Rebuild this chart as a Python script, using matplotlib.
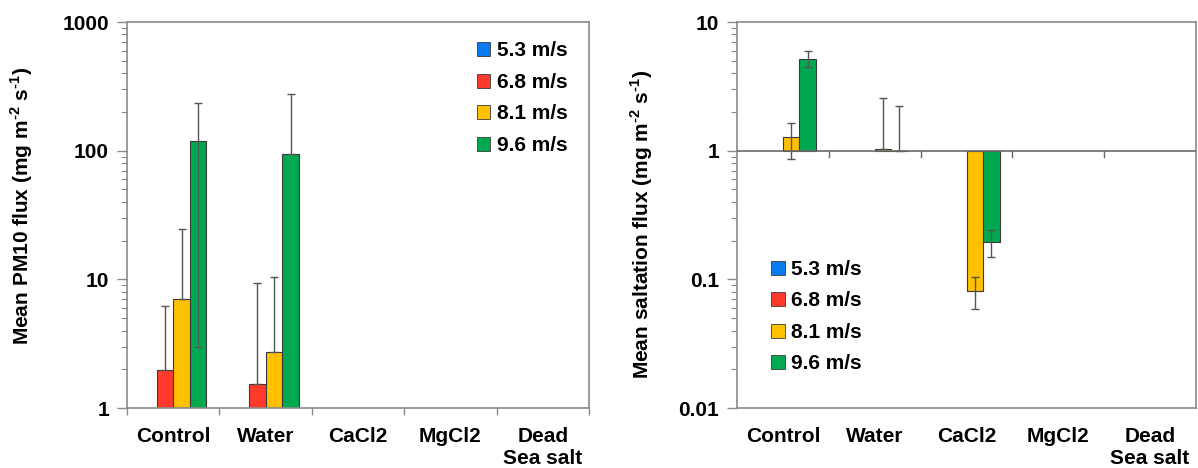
"""Mean PM10 and saltation flux per treatment and wind speed (log axes)"""

import numpy as np
import matplotlib
matplotlib.use("Agg")
import matplotlib.pyplot as plt
from matplotlib.patches import Patch

plt.rcParams["font.family"] = ["Liberation Sans", "DejaVu Sans"]
plt.rcParams["font.weight"] = "bold"
plt.rcParams["mathtext.fontset"] = "custom"
plt.rcParams["mathtext.rm"] = "Liberation Sans:bold"
plt.rcParams["mathtext.bf"] = "Liberation Sans:bold"

categories = ["Control", "Water", "CaCl2", "MgCl2", "Dead\nSea salt"]
speeds = ["5.3 m/s", "6.8 m/s", "8.1 m/s", "9.6 m/s"]
colors = ["#0A7CF0", "#FF3A2A", "#FFC000", "#00A84F"]
nan = np.nan

# PM10 flux, one list per wind speed (values over the 5 categories)
pm10 = [
    [nan, nan, nan, nan, nan],
    [1.97, 1.53, nan, nan, nan],
    [7.03, 2.72, nan, nan, nan],
    [118, 94.2, nan, nan, nan],
]
pm10_err_up = [
    [0, 0, 0, 0, 0],
    [4.27, 7.87, 0, 0, 0],
    [17.7, 7.78, 0, 0, 0],
    [118, 183, 0, 0, 0],
]
pm10_err_low = [
    [0, 0, 0, 0, 0],
    [0, 0, 0, 0, 0],
    [0, 0, 0, 0, 0],
    [115, 0, 0, 0, 0],
]

# saltation flux
salt = [
    [nan, nan, nan, nan, nan],
    [nan, nan, nan, nan, nan],
    [1.28, 1.024, 0.0811, nan, nan],
    [5.19, 1.0, 0.194, nan, nan],
]
salt_err_up = [
    [0, 0, 0, 0, 0],
    [0, 0, 0, 0, 0],
    [0.37, 1.556, 0.024, 0, 0],
    [0.79, 1.22, 0.047, 0, 0],
]
salt_err_low = [
    [0, 0, 0, 0, 0],
    [0, 0, 0, 0, 0],
    [0.413, 0, 0.0226, 0, 0],
    [0.74, 0, 0.045, 0, 0],
]

FS = 15
SPINE = "#8a8a8a"


def draw(ax, values, err_up, err_low, ylim, ylabel, label_xy, legend_loc):
    x = np.arange(len(categories))
    w = 0.18
    for i, (vals, up, low) in enumerate(zip(values, err_up, err_low)):
        vals = np.array(vals, dtype=float)
        pos = x + (i - 1.5) * w
        ax.bar(pos, vals - 1, bottom=1, width=w, color=colors[i],
               edgecolor="#3a3a3a", linewidth=0.8, zorder=2)
        ax.errorbar(pos, vals, yerr=[low, up], fmt="none", ecolor="#555555",
                    elinewidth=1.0, capsize=3, capthick=1.0, zorder=3)
    ax.set_yscale("log")
    ax.set_ylim(*ylim)
    ax.set_xlim(-0.5, len(categories) - 0.5)
    for s in ax.spines.values():
        s.set_color(SPINE)
        s.set_linewidth(1.2)
    ax.yaxis.set_major_formatter(plt.FuncFormatter(lambda v, p: f"{v:g}"))
    ax.tick_params(axis="y", which="major", length=7, width=1, color=SPINE,
                   labelsize=FS, pad=6)
    ax.tick_params(axis="y", which="minor", length=4, width=0.8, color=SPINE)
    ax.set_xticks(x, categories, minor=True)
    ax.tick_params(axis="x", which="minor", length=0, labelsize=FS, pad=14)
    ax.set_ylabel(ylabel, fontsize=FS, fontweight="bold")
    ax.yaxis.set_label_coords(*label_xy)
    handles = [Patch(facecolor=c, edgecolor="#3a3a3a", linewidth=0.6) for c in colors]
    ax.legend(handles, speeds, loc=legend_loc, frameon=False, fontsize=FS,
              handlelength=0.65, handleheight=0.65, handletextpad=0.3,
              labelspacing=0.6)


fig = plt.figure(figsize=(11.98, 4.68), dpi=100)
ax1 = fig.add_axes([127 / 1198, 1 - 408 / 468, 462 / 1198, 386 / 468])
ax2 = fig.add_axes([737 / 1198, 1 - 408 / 468, 459 / 1198, 386 / 468])

draw(ax1, pm10, pm10_err_up, pm10_err_low, (1, 1000),
     r"Mean PM10 flux (mg m$^{\text{-2}}$ s$^{\text{-1}}$)", (-0.2, 0.523),
     (0.739, 0.634))
bounds = np.arange(len(categories) + 1) - 0.5
ax1.set_xticks(bounds, [""] * len(bounds))
ax1.tick_params(axis="x", which="major", length=5, width=1, color=SPINE)

draw(ax2, salt, salt_err_up, salt_err_low, (0.01, 10),
     r"Mean saltation flux (mg m$^{\text{-2}}$ s$^{\text{-1}}$)", (-0.178, 0.477),
     (0.057, 0.068))
ax2.set_xticks([])
ax2.axhline(1, color="#6a6a6a", linewidth=1.2, zorder=4)
lo, hi = np.log10(ax2.get_ylim())
y1 = (0 - lo) / (hi - lo)
for b in bounds[1:-1]:
    ax2.plot([b, b], [y1, y1 - 6 / 386], color="#6a6a6a", linewidth=1,
             transform=ax2.get_xaxis_transform(), clip_on=False, zorder=4)

fig.savefig("out.png", dpi=100)
